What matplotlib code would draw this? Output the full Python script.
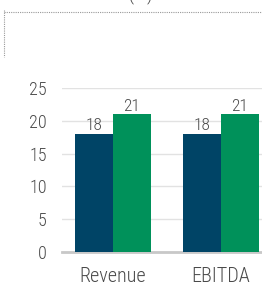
import matplotlib.pyplot as plt
from matplotlib.lines import Line2D
import numpy as np

categories = ["Revenue", "EBITDA"]
series_a = [18, 18]
series_b = [21, 21]
y_ticks = [0, 5, 10, 15, 20, 25]
title = "Growth rate (%)"

navy = "#004466"
green = "#00915a"
txt = "#4a4a4a"

plt.rcParams['font.family'] = ['Roboto Condensed', 'DejaVu Sans']
plt.rcParams['font.weight'] = 'light'

fig = plt.figure(figsize=(2.62, 2.84), dpi=100)
ax = fig.add_axes([0.2366, 0.1127, 0.7634, 0.577])

x = np.arange(len(categories))
w = 0.35
b1 = ax.bar(x - w / 2, series_a, w, color=navy, zorder=3)
b2 = ax.bar(x + w / 2, series_b, w, color=green, zorder=3)
for bars in (b1, b2):
    for bar in bars:
        ax.annotate(f"{bar.get_height():.0f}",
                    (bar.get_x() + bar.get_width() / 2, bar.get_height()),
                    xytext=(0, 0.5), textcoords="offset points",
                    ha="center", va="bottom", fontsize=12.5, color=txt)

ax.set_xlim(-0.472, 1.38)
ax.set_ylim(0, 25)
ax.set_yticks(y_ticks)
ax.set_xticks(x)
ax.set_xticklabels(categories, fontsize=14.5)
ax.tick_params(axis="both", length=0, labelcolor=txt)
ax.tick_params(axis="y", pad=11, labelsize=13)
ax.tick_params(axis="x", pad=11)
ax.grid(axis="y", color="#e2e2e2", linewidth=1, zorder=0)
for s in ("top", "right", "left"):
    ax.spines[s].set_visible(False)
ax.spines["bottom"].set_color("#c8c8c8")
ax.spines["bottom"].set_linewidth(2)

# dotted frame at the top left
fig.add_artist(Line2D([4 / 262, 1], [0.958, 0.958], color="#999999",
                      linestyle=(0, (1, 1)), linewidth=0.8))
fig.add_artist(Line2D([4 / 262, 4 / 262], [0.965, 0.80], color="#999999",
                      linestyle=(0, (1, 1)), linewidth=0.8))
fig.text(153 / 262, 1.003, title, fontsize=14.5, color=txt,
         ha="right", va="baseline")

fig.savefig("out.png", dpi=100)
